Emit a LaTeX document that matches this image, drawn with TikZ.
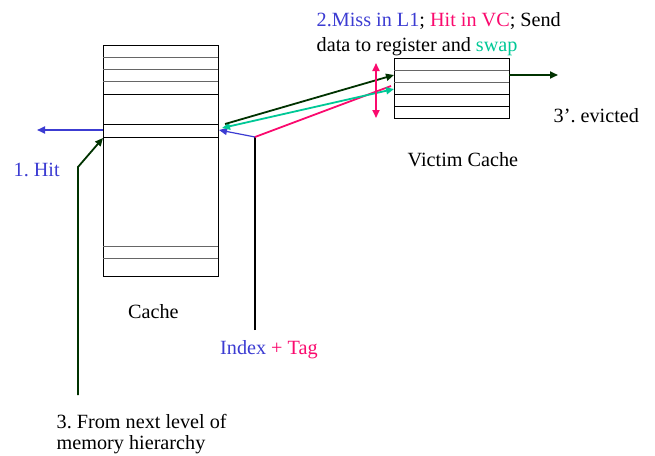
\documentclass[tikz,border=0pt]{standalone}
\usepackage{fontspec}
\setmainfont{Liberation Serif}
\usetikzlibrary{arrows.meta}
\definecolor{cblue}{RGB}{60,60,210}
\definecolor{cmag}{RGB}{250,10,110}
\definecolor{cteal}{RGB}{0,200,150}
\definecolor{cdg}{RGB}{0,50,0}
\begin{document}
\frenchspacing
\begin{tikzpicture}[x=1pt,y=-1pt,
  lbl/.style={inner sep=0pt,anchor=base west,font=\fontsize{20.2}{22}\selectfont},
  row/.style={draw=gray!80!black,line width=1pt},
  blk/.style={draw=black,line width=1pt},
  arr/.style={line width=1.8pt,-{Triangle[length=8pt,width=7pt]}},
  darr/.style={line width=1.8pt,{Triangle[length=8pt,width=7pt]}-{Triangle[length=8pt,width=7pt]}}]
\useasboundingbox (0,0) rectangle (655,455);
% Cache
\node[blk,draw,minimum width=115pt,minimum height=231pt,inner sep=0pt,anchor=north west] (cache) at (103,45) {};
\foreach \y in {57,69,81} \draw[row] (103,\y) -- (218,\y);
\foreach \y in {94,124,137} \draw[blk] (103,\y) -- (218,\y);
\foreach \y in {246,258} \draw[row] (103,\y) -- (218,\y);
% Victim cache
\node[blk,draw,minimum width=115pt,minimum height=60pt,inner sep=0pt,anchor=north west] (vc) at (394,58) {};
\foreach \y in {70,82} \draw[row] (394,\y) -- (509,\y);
\foreach \y in {94,106} \draw[blk] (394,\y) -- (509,\y);
% coordinates
\coordinate (hitL) at (37,130);
\coordinate (hitR) at (103,130);
\coordinate (nlB) at (78,395);
\coordinate (nlM) at (78,167);
\coordinate (nlT) at (103,138);
\coordinate (itB) at (255,330);
\coordinate (itT) at (255,137);
\coordinate (itL) at (219,130);
\coordinate (vcIn1) at (394,89);
\coordinate (vcIn0) at (394,75);
\coordinate (cL1) at (222,128);
\coordinate (cL0) at (225,124);
\coordinate (vcO) at (509,75);
\coordinate (vcE) at (558,75);
\coordinate (mT) at (376,63);
\coordinate (mB) at (376,118);
% arrows
\draw[arr,cblue] (hitR) -- (hitL);
\draw[arr,cdg] (nlB) -- (nlM) -- (nlT);
\draw[line width=1.8pt,black] (itB) -- (itT);
\draw[arr,cblue,line width=1.2pt] (itT) -- (itL);
\draw[line width=1.8pt,cmag] (itT) -- (391,86);
\draw[darr,cteal] (cL1) -- (vcIn1);
\draw[arr,cdg] (cL0) -- (vcIn0);
\draw[darr,cmag] (mT) -- (mB);
\draw[arr,cdg] (vcO) -- (vcE);
% labels
\node[lbl] (t1) at (316.5,26) {\textcolor{cblue}{2.Miss in L1}; \textcolor{cmag}{Hit in VC}; Send};
\node[lbl] (t2) at (316.5,51) {data to register and \textcolor{cteal}{swap}};
\node[lbl] (ev) at (553.5,122.5) {3’. evicted};
\node[lbl] (vct) at (407.5,166.5) {Victim Cache};
\node[lbl,text=cblue] (hit) at (13.5,176.5) {1. Hit};
\node[lbl] (ct) at (128,318) {Cache};
\node[lbl] (ixt) at (220,354.5) {\textcolor{cblue}{Index} \textcolor{cmag}{+ Tag}};
\node[lbl] (nl1) at (56.5,428) {3. From next level of};
\node[lbl] (nl2) at (56.5,449) {memory hierarchy};
\end{tikzpicture}
\end{document}
